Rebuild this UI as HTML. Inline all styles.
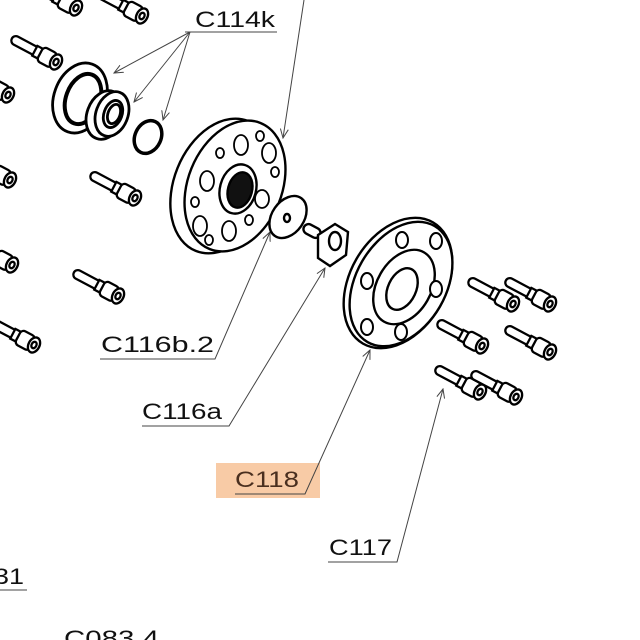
<!DOCTYPE html>
<html><head><style>html,body{margin:0;padding:0;background:#fff}svg{display:block}</style></head><body>
<svg width="640" height="640" viewBox="0 0 640 640" xmlns="http://www.w3.org/2000/svg">
<defs>
<g id="bolt" fill="#fff" stroke="#000" stroke-width="2.3">
<rect x="-50" y="-4.5" width="36" height="9" rx="4.5"/>
<rect x="-24" y="-5.5" width="8" height="11"/>
<rect x="-18" y="-8" width="16" height="16" rx="4"/>
<ellipse cx="0" cy="0" rx="5.5" ry="8"/>
<ellipse cx="0" cy="0" rx="2.4" ry="3.4"/>
</g>
<marker id="ar" markerWidth="10" markerHeight="10" refX="9" refY="5" orient="auto" markerUnits="userSpaceOnUse"><path d="M0,1 L9,5 L0,9" fill="none" stroke="#444" stroke-width="1"/></marker>
</defs>
<rect x="216" y="463" width="104" height="35" fill="#f8cba6"/>
<g stroke="#444" stroke-width="1" fill="none">
<path d="M185,32 H277"/>
<path d="M190,32 L114,73" marker-end="url(#ar)"/>
<path d="M190,32 L134,102" marker-end="url(#ar)"/>
<path d="M190,32 L163,120" marker-end="url(#ar)"/>
<path d="M304,0 L283,138" marker-end="url(#ar)"/>
<path d="M100,359 H215 L270,232" marker-end="url(#ar)"/>
<path d="M142,426 H229 L325,268" marker-end="url(#ar)"/>
<path d="M235,494 H305 L370,350" marker-end="url(#ar)"/>
<path d="M328,562 H397 L443,389" marker-end="url(#ar)"/>
<path d="M0,590 H27"/>
</g>
<g font-family="Liberation Sans, sans-serif" font-size="22" fill="#111">
<text x="195" y="27" textLength="80" lengthAdjust="spacingAndGlyphs">C114k</text>
<text x="101" y="352" textLength="113" lengthAdjust="spacingAndGlyphs">C116b.2</text>
<text x="142" y="419" textLength="80" lengthAdjust="spacingAndGlyphs">C116a</text>
<text x="235" y="487" textLength="64" lengthAdjust="spacingAndGlyphs" fill="#4a2f1f">C118</text>
<text x="329" y="555" textLength="63" lengthAdjust="spacingAndGlyphs">C117</text>
<text x="-6" y="584" textLength="30" lengthAdjust="spacingAndGlyphs">31</text>
<text x="64" y="646" textLength="95" lengthAdjust="spacingAndGlyphs">C083.4</text>
</g>
<use href="#bolt" transform="translate(76,8) rotate(28)"/>
<use href="#bolt" transform="translate(142,16) rotate(28)"/>
<use href="#bolt" transform="translate(56,62) rotate(28)"/>
<use href="#bolt" transform="translate(8,95) rotate(28)"/>
<use href="#bolt" transform="translate(10,180) rotate(28)"/>
<use href="#bolt" transform="translate(135,198) rotate(28)"/>
<use href="#bolt" transform="translate(12,265) rotate(28)"/>
<use href="#bolt" transform="translate(118,296) rotate(28)"/>
<use href="#bolt" transform="translate(34,345) rotate(28)"/>
<use href="#bolt" transform="translate(513,304) rotate(28)"/>
<use href="#bolt" transform="translate(550,304) rotate(28)"/>
<use href="#bolt" transform="translate(482,346) rotate(28)"/>
<use href="#bolt" transform="translate(550,352) rotate(28)"/>
<use href="#bolt" transform="translate(480,392) rotate(28)"/>
<use href="#bolt" transform="translate(516,397) rotate(28)"/>
<g fill="#fff" stroke="#000" stroke-width="2.8">
<ellipse cx="80" cy="98" rx="26" ry="36" transform="rotate(20 80 98)"/>
<ellipse cx="83" cy="99" rx="17" ry="26" transform="rotate(20 83 99)" stroke-width="4"/>
<ellipse cx="105" cy="115" rx="18" ry="25" transform="rotate(20 105 115)"/>
<ellipse cx="112" cy="114" rx="16" ry="23" transform="rotate(20 112 114)"/>
<ellipse cx="113" cy="114" rx="9" ry="14" transform="rotate(20 113 114)"/>
<ellipse cx="114" cy="114" rx="6" ry="10" transform="rotate(20 114 114)"/>
<ellipse cx="148" cy="137" rx="13" ry="17" transform="rotate(25 148 137)" stroke-width="3.5"/>
</g>
<g fill="#fff" stroke="#000" stroke-width="2.4">
<ellipse cx="222" cy="186" rx="48" ry="70" transform="rotate(22 222 186)"/>
<ellipse cx="235" cy="186" rx="47" ry="68" transform="rotate(22 235 186)"/>
<g stroke-width="1.8">
<ellipse cx="241" cy="145" rx="7" ry="10"/><ellipse cx="269" cy="153" rx="7" ry="10"/>
<ellipse cx="207" cy="181" rx="7" ry="10"/><ellipse cx="200" cy="226" rx="7" ry="10"/>
<ellipse cx="229" cy="231" rx="7" ry="10"/><ellipse cx="262" cy="199" rx="7" ry="9"/>
<ellipse cx="220" cy="153" rx="4" ry="5"/><ellipse cx="260" cy="136" rx="4" ry="5"/>
<ellipse cx="275" cy="172" rx="4" ry="5"/><ellipse cx="195" cy="202" rx="4" ry="5"/>
<ellipse cx="209" cy="240" rx="4" ry="5"/><ellipse cx="249" cy="220" rx="4" ry="5"/>
</g>
<ellipse cx="238" cy="189" rx="18" ry="25" transform="rotate(15 238 189)"/>
<ellipse cx="240" cy="190" rx="12" ry="18" transform="rotate(15 240 190)" fill="#111"/>
<ellipse cx="288" cy="217" rx="16" ry="23" transform="rotate(35 288 217)"/>
<ellipse cx="287" cy="218" rx="3" ry="4"/>
<rect x="303" y="226" width="18" height="10" rx="5" transform="rotate(28 312 231)"/>
<path d="M318,235 L335,224 L348,232 L346,255 L330,266 L318,258 Z"/>
<ellipse cx="335" cy="241" rx="6" ry="9"/>
<ellipse cx="398" cy="283" rx="48" ry="70" transform="rotate(30 398 283)"/>
<ellipse cx="401" cy="284" rx="45" ry="67" transform="rotate(30 401 284)"/>
<ellipse cx="404" cy="287" rx="27" ry="40" transform="rotate(30 404 287)"/>
<ellipse cx="402" cy="289" rx="14" ry="22" transform="rotate(25 402 289)"/>
<g stroke-width="2">
<ellipse cx="402" cy="240" rx="6" ry="8"/><ellipse cx="436" cy="241" rx="6" ry="8"/>
<ellipse cx="367" cy="281" rx="6" ry="8"/><ellipse cx="436" cy="289" rx="6" ry="8"/>
<ellipse cx="367" cy="327" rx="6" ry="8"/><ellipse cx="401" cy="332" rx="6" ry="8"/>
</g>
</g>
</svg>
</body></html>
